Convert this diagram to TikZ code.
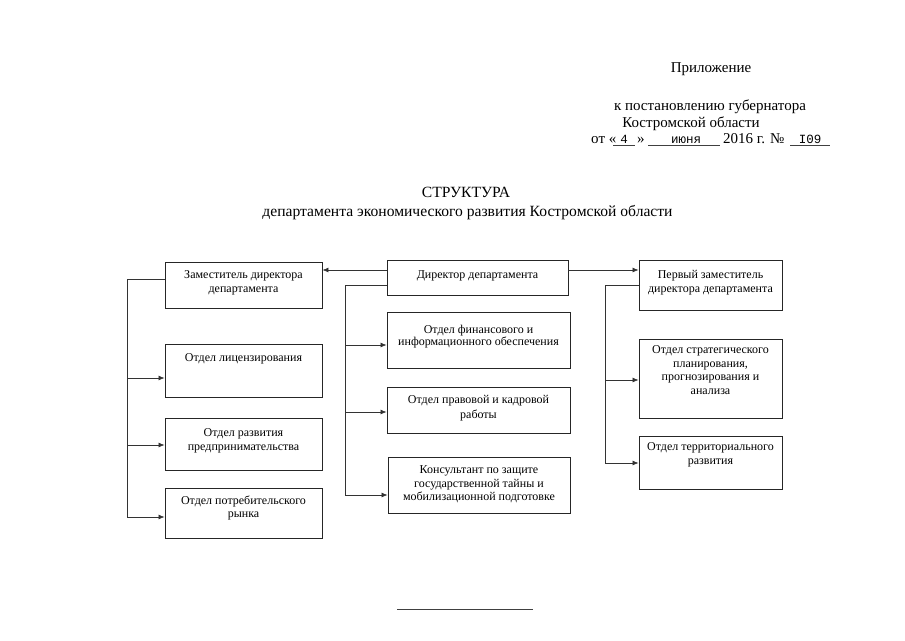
\documentclass[tikz,border=0pt]{standalone}
\usepackage{fontspec}
\setmainfont{Liberation Serif}
\newfontfamily\monof{Liberation Mono}
\usetikzlibrary{arrows.meta}
\begin{document}
\begin{tikzpicture}[x=1pt,y=-1pt,
  box/.style={draw=black!85, line width=0.9pt, inner sep=0pt},
  btxt/.style={anchor=north, align=center, inner sep=0pt, font=\fontsize{12}{13.5}\selectfont},
  conn/.style={draw=black!80, line width=0.7pt},
  arr/.style={conn, -{Latex[length=6pt,width=5pt]}},
  htxt/.style={inner sep=0pt, font=\fontsize{15}{17}\selectfont},
  ttxt/.style={inner sep=0pt, font=\fontsize{15.6}{18}\selectfont},
  mtxt/.style={inner sep=0pt, anchor=base, font=\monof\fontsize{12.5}{15}\selectfont},
  uline/.style={draw=black!75, line width=0.7pt}]
\useasboundingbox (0,0) rectangle (905,640);

% header
\node[htxt, anchor=base] (pril) at (711,72) {Приложение};
\node[htxt, anchor=base] (post) at (710,110) {к постановлению губернатора};
\node[htxt, anchor=base] (kostr) at (691,127) {Костромской области};
\node[htxt, anchor=base west] (ot) at (591,143) {от «};
\node[mtxt] (num4) at (624,143) {4};
\node[htxt, anchor=base west] (gt) at (637,143) {»};
\node[mtxt] (mon) at (686,143) {июня};
\node[htxt, anchor=base west] (yr) at (723,143) {2016 г. №};
\node[mtxt] (nr) at (810,143) {I09};
\draw[uline] (613,145) -- (635,145);
\draw[uline] (648,145) -- (720,145);
\draw[uline] (790,145) -- (830,145);

\node[ttxt, anchor=base] (str) at (466,197) {СТРУКТУРА};
\node[ttxt, anchor=base] (sub) at (467.5,216) {департамента экономического развития Костромской области};

% boxes
\node[box, minimum width=157pt, minimum height=46pt] (zam) at (243.5,285) {};
\node[box, minimum width=157pt, minimum height=53pt] (lic) at (243.5,370.5) {};
\node[box, minimum width=157pt, minimum height=52pt] (razv) at (243.5,444) {};
\node[box, minimum width=157pt, minimum height=50pt] (potr) at (243.5,513) {};
\node[box, minimum width=181pt, minimum height=35pt] (dir) at (477.5,277.5) {};
\node[box, minimum width=183pt, minimum height=56pt] (fin) at (478.5,340) {};
\node[box, minimum width=183pt, minimum height=46pt] (prav) at (478.5,410) {};
\node[box, minimum width=182pt, minimum height=56pt] (kons) at (479,485) {};
\node[box, minimum width=143pt, minimum height=50pt] (perv) at (710.5,285) {};
\node[box, minimum width=143pt, minimum height=79pt] (strat) at (710.5,378.5) {};
\node[box, minimum width=143pt, minimum height=53pt] (terr) at (710.5,462.5) {};

% box texts
\node[btxt, yshift=-9pt] (tzam) at (zam.north) {Заместитель директора\\департамента};
\node[btxt, yshift=-10pt] (tlic) at (lic.north) {Отдел лицензирования};
\node[btxt, yshift=-11pt] (trazv) at (razv.north) {Отдел развития\\предпринимательства};
\node[btxt, yshift=-8pt] (tpotr) at (potr.north) {Отдел потребительского\\рынка};
\node[btxt, yshift=-11pt] (tdir) at (dir.north) {Директор департамента};
\node[btxt, yshift=-13pt, font=\fontsize{12}{12.5}\selectfont] (tfin) at (fin.north) {Отдел финансового и\\информационного обеспечения};
\node[btxt, yshift=-9pt, font=\fontsize{12}{15}\selectfont] (tprav) at (prav.north) {Отдел правовой и кадровой\\работы};
\node[btxt, yshift=-9pt] (tkons) at (kons.north) {Консультант по защите\\государственной тайны и\\мобилизационной подготовке};
\node[btxt, yshift=-11pt] (tperv) at (perv.north) {Первый заместитель\\директора департамента};
\node[btxt, yshift=-7pt] (tstrat) at (strat.north) {Отдел стратегического\\планирования,\\прогнозирования и\\анализа};
\node[btxt, yshift=-7pt] (tterr) at (terr.north) {Отдел территориального\\развития};

% director to deputies
\draw[arr] ([yshift=7.5pt]dir.west) -- ([yshift=7.5pt]dir.west -| zam.east);
\draw[arr] ([yshift=7.5pt]dir.east) -- ([yshift=7.5pt]dir.east -| perv.west);

% left tree
\coordinate (lt) at (127,279);
\coordinate (lb) at (127,517);
\coordinate (l1) at (127,378);
\coordinate (l2) at (127,445);
\draw[conn] ([yshift=6pt]zam.west) -- (lt) -- (lb);
\draw[arr] (l1) -- (l1 -| lic.west);
\draw[arr] (l2) -- (l2 -| razv.west);
\draw[arr] (lb) -- (lb -| potr.west);

% middle tree
\coordinate (mt) at (345,285);
\coordinate (mb) at (345,495);
\coordinate (m1) at (345,345);
\coordinate (m2) at (345,412);
\draw[conn] ([yshift=-7.5pt]dir.west) -- (mt) -- (mb);
\draw[arr] (m1) -- (m1 -| fin.west);
\draw[arr] (m2) -- (m2 -| prav.west);
\draw[arr] (mb) -- (mb -| kons.west);

% right tree
\coordinate (rt) at (605,285);
\coordinate (rb) at (605,463);
\coordinate (r1) at (605,380);
\draw[conn] (perv.west) -- (rt) -- (rb);
\draw[arr] (r1) -- (r1 -| strat.west);
\draw[arr] (rb) -- (rb -| terr.west);

% closing rule
\draw[uline] (397,609) -- (533,609);
\end{tikzpicture}
\end{document}
